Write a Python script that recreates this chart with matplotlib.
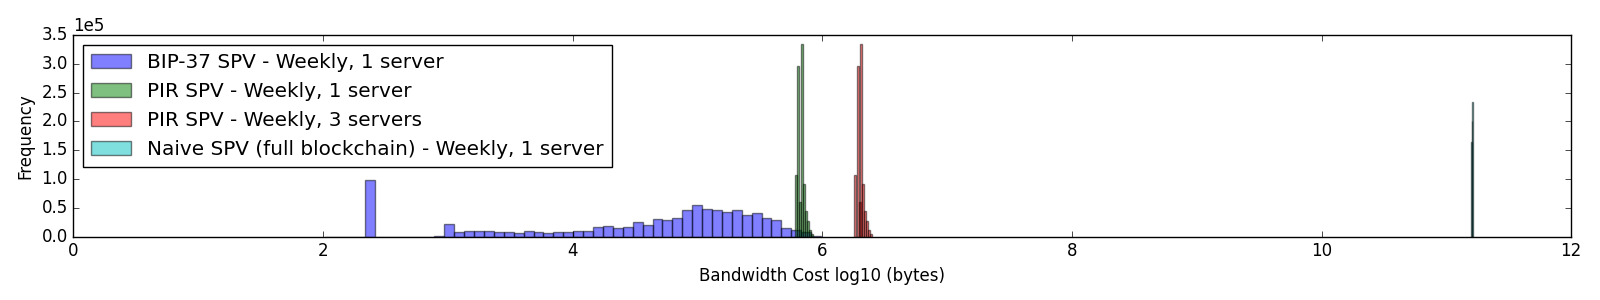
import matplotlib
matplotlib.use("Agg")
import matplotlib.pyplot as plt
import numpy as np

plt.style.use("classic")

# ---- data ----
bip37_start = 2.02
bip37_binwidth = 0.0794
bip37_counts = [300, 0, 0, 0, 98000, 0, 0, 0, 0, 0,
                0, 500, 22600, 8700, 10400, 10400, 10400, 8100, 8100, 6400,
                9800, 8100, 6400, 8100, 8100, 9800, 9800, 16800, 18500, 15000,
                16800, 25500, 20300, 30700, 29000, 32400, 46300, 55000, 48000, 46300,
                42800, 46300, 37600, 41100, 31800, 28400, 15600, 11600, 8700, 1000]

pir1_left = [5.778, 5.798, 5.814, 5.826, 5.842, 5.858, 5.874, 5.890, 5.906]
pir1_counts = [107000, 297000, 61000, 335000, 92000, 44000, 27000, 12000, 4000]
pir_binwidth = 0.017

pir3_left = [6.255, 6.275, 6.291, 6.303, 6.319, 6.335, 6.351, 6.367, 6.383]
pir3_counts = [107000, 297000, 61000, 335000, 92000, 44000, 27000, 12000, 4000]

naive_left = [11.200, 11.204, 11.208]
naive_counts = [165000, 200000, 233000]
naive_binwidth = 0.004

labels = ["BIP-37 SPV - Weekly, 1 server",
          "PIR SPV - Weekly, 1 server",
          "PIR SPV - Weekly, 3 servers",
          "Naive SPV (full blockchain) - Weekly, 1 server"]

# ---- plot ----
fig = plt.figure(figsize=(16, 3), dpi=100)
ax = fig.add_axes([0.0458, 0.211, 0.9362, 0.6723])

bip37_left = bip37_start + bip37_binwidth * np.arange(len(bip37_counts))
ax.bar(bip37_left, bip37_counts, width=bip37_binwidth, align="edge",
       color="b", edgecolor="k", alpha=0.5, linewidth=1.0, label=labels[0])
ax.bar(pir1_left, pir1_counts, width=pir_binwidth, align="edge",
       color="g", edgecolor="k", alpha=0.5, linewidth=1.0, label=labels[1])
ax.bar(pir3_left, pir3_counts, width=pir_binwidth, align="edge",
       color="r", edgecolor="k", alpha=0.5, linewidth=1.0, label=labels[2])
ax.bar(naive_left, naive_counts, width=naive_binwidth, align="edge",
       color="c", edgecolor="k", alpha=0.5, linewidth=1.0, label=labels[3])

ax.set_xlim(0, 12)
ax.set_ylim(0, 350000)
ax.set_yticks(np.arange(0, 350001, 50000))
ax.ticklabel_format(axis="y", style="sci", scilimits=(0, 0))
ax.set_xlabel("Bandwidth Cost log10 (bytes)")
ax.set_ylabel("Frequency")
ax.legend(loc="upper left", fontsize="large")

fig.savefig("out.png", dpi=100, facecolor="white")
